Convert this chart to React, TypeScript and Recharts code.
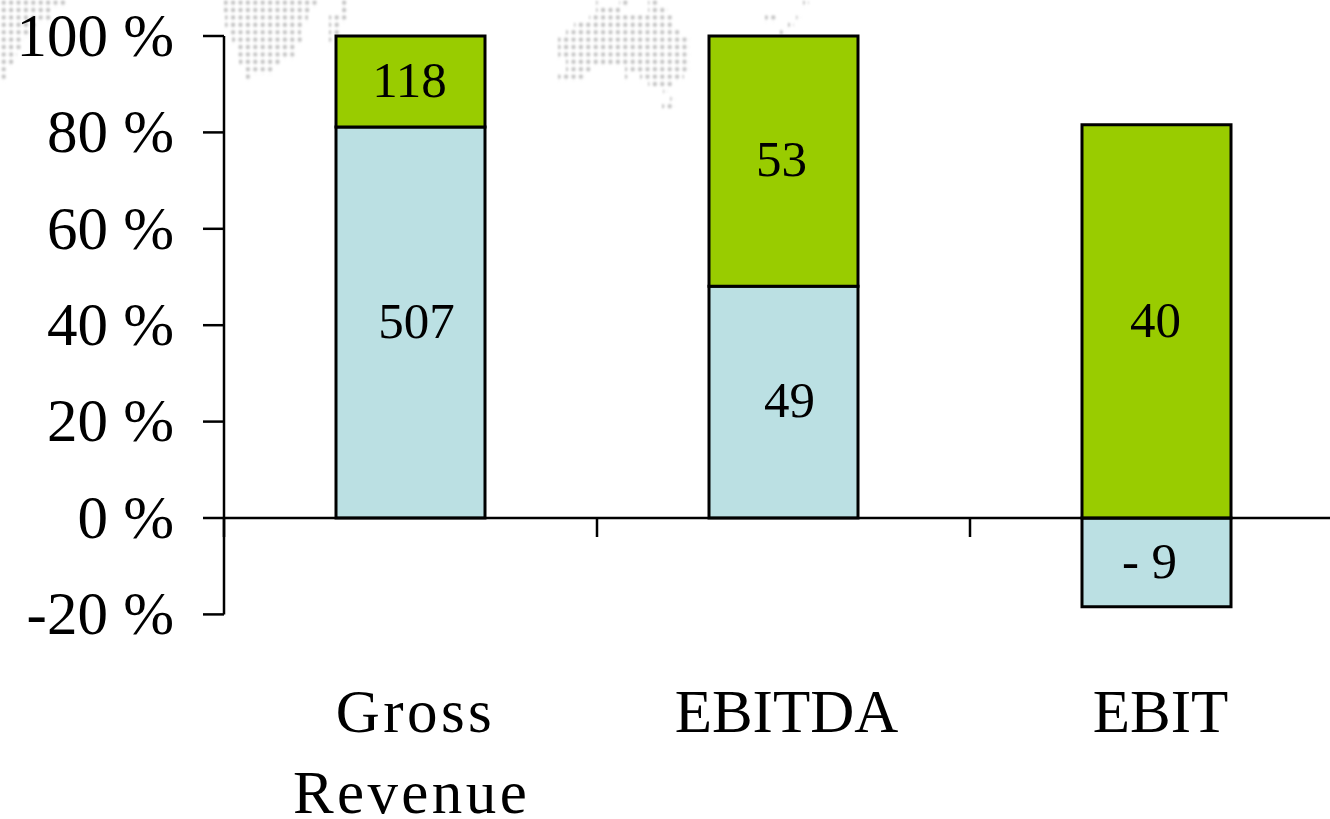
import React from "react";
import { BarChart, Bar, XAxis, YAxis, ReferenceLine, LabelList } from "recharts";

const categories = ["Gross Revenue", "EBITDA", "EBIT"];
const lowerShare = [81.1, 48.1, -18.4];
const upperShare = [18.9, 51.9, 81.6];
const lowerLabels = ["507", "49", "- 9"];
const upperLabels = ["118", "53", "40"];
const yTicks = [-20, 0, 20, 40, 60, 80, 100];

const rows = categories.map((name, i) => ({
  name,
  lower: lowerShare[i],
  upper: upperShare[i],
  lowerLabel: lowerLabels[i],
  upperLabel: upperLabels[i],
}));

// Faint dotted world-map backdrop: [row top, x start, x end]
const backdropRows: [number, number, number][] = [
  [0, 0, 66], [7, 0, 51], [15, 0, 51], [22, 0, 38], [30, 0, 31], [37, 0, 24], [44, 0, 21], [52, 0, 17], [59, 0, 14], [67, 0, 6], [74, 0, 6],
  [0, 224, 318], [7, 224, 310], [15, 225, 308], [22, 225, 304], [30, 229, 301], [37, 232, 304], [44, 238, 297], [52, 238, 296], [59, 239, 281], [67, 246, 274], [74, 246, 251],
  [0, 342, 348], [7, 342, 349], [15, 329, 348], [22, 329, 341], [30, 329, 339], [37, 329, 334],
  [0, 596, 601], [0, 619, 629], [0, 648, 659], [7, 596, 620], [7, 648, 668], [15, 589, 674], [22, 574, 674], [29, 566, 681], [37, 558, 690], [44, 558, 690], [52, 558, 690], [59, 566, 690], [66, 566, 592], [66, 625, 690], [74, 558, 586], [74, 625, 630], [74, 640, 684], [81, 648, 674], [88, 663, 668], [96, 670, 675], [103, 662, 675],
  [0, 803, 809], [15, 765, 778], [15, 796, 801], [22, 788, 794], [29, 780, 786],
];

const BAR_LABEL_NUDGE: Record<string, number> = { "507": 6, "49": 6, "- 9": -7, "118": -1, "53": -2, "40": -1 };

function BarValue(props: any) {
  const { x, y, width, height, value } = props;
  return (
    <text
      x={x + width / 2 + (BAR_LABEL_NUDGE[value] ?? 0)}
      y={y + height / 2 - 2}
      dy="0.34em"
      textAnchor="middle"
      fontFamily="'Liberation Serif', serif"
      fontSize={51}
      fill="#000"
    >
      {value}
    </text>
  );
}

const WORD_NUDGE: Record<string, number> = { Gross: 5, Revenue: 1, EBITDA: 3, EBIT: 4 };

function CategoryTick(props: any) {
  const { x, payload } = props;
  const half = 186.5;
  const words = String(payload.value).split(" ");
  return (
    <g>
      <line x1={x - half} x2={x - half} y1={518} y2={537} stroke="#000" strokeWidth={2.5} />
      <text textAnchor="middle" fontFamily="'Liberation Serif', serif" fontSize={61} fill="#000">
        {words.map((w, i) => (
          <tspan
            key={w}
            x={x + (WORD_NUDGE[w] ?? 0)}
            y={732 + i * 81}
            letterSpacing={/[a-z]/.test(w) ? 3.4 : 0}
          >
            {w}
          </tspan>
        ))}
      </text>
    </g>
  );
}

function ValueTick(props: any) {
  const { x, y, payload } = props;
  return (
    <text
      x={x}
      y={y - 1}
      dy="0.34em"
      textAnchor="end"
      fontFamily="'Liberation Serif', serif"
      fontSize={61}
      fill="#000"
    >
      {`${payload.value} %`}
    </text>
  );
}

export default function App() {
  return (
    <div style={{ position: "fixed", left: 0, top: 0, width: 1330, height: 819, overflow: "hidden", background: "#fff" }}>
      <svg width={1330} height={819} style={{ position: "absolute", left: 0, top: 0, filter: "blur(0.8px)" }}>
        <defs>
          <pattern id="dots" x={0} y={-1} width={7.4} height={7.4} patternUnits="userSpaceOnUse">
            <circle cx={3.7} cy={3.7} r={2.2} fill="#c4c4c4" />
          </pattern>
        </defs>
        {backdropRows.map(([top, x0, x1], i) => (
          <rect key={i} x={x0} y={top} width={x1 - x0} height={7.4} fill="url(#dots)" />
        ))}
      </svg>
      <div style={{ position: "absolute", left: 0, top: 0 }}>
        <BarChart
          width={1400}
          height={819}
          data={rows}
          stackOffset="sign"
          barSize={149}
          margin={{ top: 36, right: 57, bottom: 144.6, left: 0 }}
          style={{ background: "transparent" }}
        >
          <XAxis
            dataKey="name"
            axisLine={false}
            tickLine={false}
            interval={0}
            height={60}
            tick={<CategoryTick />}
          />
          <YAxis
            width={224}
            domain={[-20, 100]}
            ticks={yTicks}
            interval={0}
            tickSize={21}
            tickMargin={29}
            axisLine={{ stroke: "#000", strokeWidth: 2.5 }}
            tickLine={{ stroke: "#000", strokeWidth: 2.5 }}
            tick={<ValueTick />}
          />
          <Bar dataKey="lower" stackId="a" fill="#BBE0E3" stroke="#000" strokeWidth={3} isAnimationActive={false}>
            <LabelList dataKey="lowerLabel" content={<BarValue />} />
          </Bar>
          <Bar dataKey="upper" stackId="a" fill="#99CC00" stroke="#000" strokeWidth={3} isAnimationActive={false}>
            <LabelList dataKey="upperLabel" content={<BarValue />} />
          </Bar>
          <ReferenceLine y={0} stroke="#000" strokeWidth={2.5} />
        </BarChart>
      </div>
    </div>
  );
}
